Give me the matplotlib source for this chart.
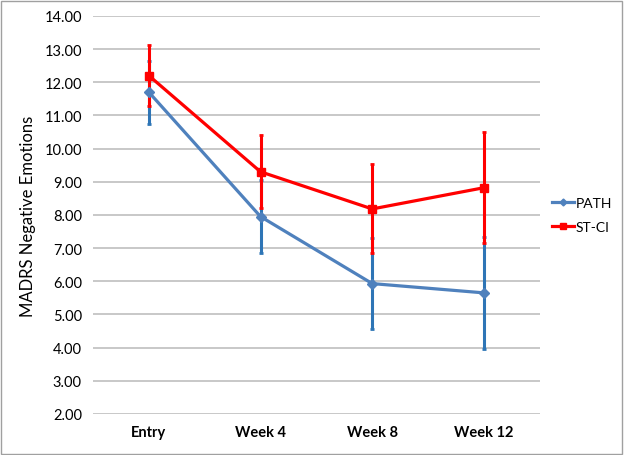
import numpy as np
import matplotlib.pyplot as plt
from matplotlib.patches import Rectangle

categories = ['Entry', 'Week 4', 'Week 8', 'Week 12']
path_mean = [11.70, 7.95, 5.93, 5.65]
path_err = [0.95, 1.10, 1.38, 1.69]
stci_mean = [12.20, 9.30, 8.18, 8.82]
stci_err = [0.93, 1.10, 1.34, 1.68]

plt.rcParams['font.family'] = ['Lato', 'DejaVu Sans']

fig = plt.figure(figsize=(6.24, 4.56), dpi=100)
ax = fig.add_axes([0.149, 0.09, 0.716, 0.873])

x = np.arange(len(categories))

# error bars first, then lines
ax.errorbar(x, path_mean, yerr=path_err, fmt='none', ecolor='#2E75B6',
            elinewidth=2.2, capsize=1.5, capthick=2, zorder=3)
ax.errorbar(x, stci_mean, yerr=stci_err, fmt='none', ecolor='#FF0000',
            elinewidth=2.2, capsize=1.5, capthick=2, zorder=4)
ax.plot(x, path_mean, color='#4F81BD', lw=2.3, marker='D', ms=5,
        label='PATH', zorder=5)
ax.plot(x, stci_mean, color='#FF0000', lw=2.3, marker='s', ms=6,
        label='ST-CI', zorder=6)

ax.set_xlim(-0.5, 3.5)
ax.set_ylim(2, 14)
ax.set_yticks(np.arange(2, 14.01, 1))
ax.set_yticklabels(['%.2f' % v for v in np.arange(2, 14.01, 1)], fontsize=10.5)
ax.set_xticks(x)
ax.set_xticklabels(categories, fontsize=10.5, fontweight='bold')
ax.tick_params(length=0, pad=8)
ax.set_ylabel('MADRS Negative Emotions', fontsize=12, labelpad=6)
ax.yaxis.grid(True, color='#BFBFBF', lw=1.2)
ax.set_axisbelow(True)
for s in ax.spines.values():
    s.set_visible(False)

ax.legend(loc='center left', bbox_to_anchor=(1.0, 0.5), frameon=False,
          fontsize=10, handlelength=1.6, handletextpad=0.1, labelspacing=0.9,
          markerscale=0.7)

fig.patches.append(Rectangle((0.002, 0.002), 0.994, 0.994, transform=fig.transFigure,
                             fill=False, edgecolor='#A0A0A0', lw=1))

fig.savefig('out.png', dpi=100)
